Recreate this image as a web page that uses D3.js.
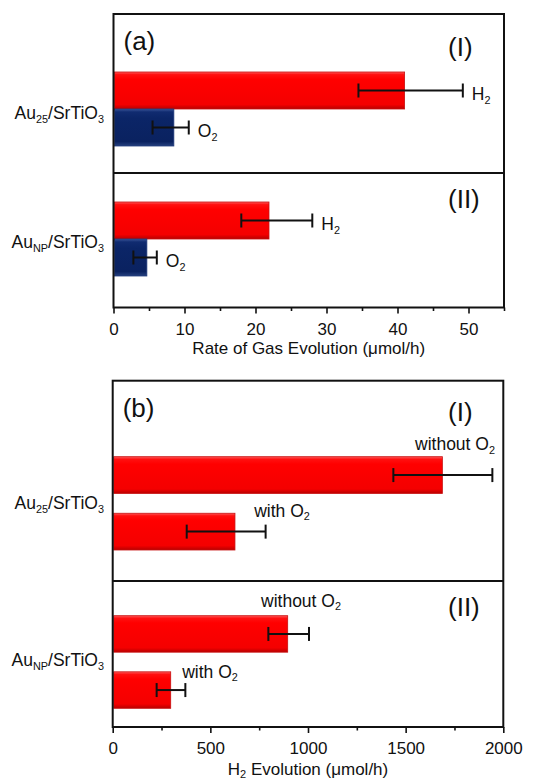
<!DOCTYPE html>
<html>
<head>
<meta charset="utf-8">
<script src="https://cdn.jsdelivr.net/npm/d3@7"></script>
<style>
  body { margin: 0; background: #fff; }
  text { font-family: Arial, "Liberation Sans", sans-serif; fill: #111; }
</style>
</head>
<body>
<script>
// ---- data ----
const catalysts = ["Au25/SrTiO3", "AuNP/SrTiO3"]
const groupTags = ["(I)", "(II)"]

// panel (a): gas evolution rate, µmol/h
const gasSeries = ["H2", "O2"]
const gasRate = [[41.0, 8.5], [21.9, 4.7]]
const gasErrLow = [[34.5, 5.5], [18.0, 2.8]]
const gasErrHigh = [[49.2, 10.6], [28.0, 6.1]]
const gasTicks = [0, 10, 20, 30, 40, 50]
const gasMinor = [5, 15, 25, 35, 45, 55]

// panel (b): H2 evolution, µmol/h
const condSeries = ["without O2", "with O2"]
const h2Rate = [[1688, 626], [896, 297]]
const h2ErrLow = [[1437, 379], [797, 225]]
const h2ErrHigh = [[1944, 783], [1005, 372]]
const h2Ticks = [0, 500, 1000, 1500, 2000]
const h2Minor = [250, 750, 1250, 1750]

const W = 554, H = 781
const svg = d3.select("body").append("svg")
    .attr("width", W)
    .attr("height", H)

const defs = svg.append("defs")
function gradient(id, stops) {
    const g = defs.append("linearGradient").attr("id", id)
        .attr("x1", 0).attr("y1", 0).attr("x2", 0).attr("y2", 1)
    stops.forEach(s => g.append("stop").attr("offset", s[0]).attr("stop-color", s[1]))
}
gradient("redbar", [[0, "#ff5a5a"], [0.07, "#ff1010"], [0.2, "#ff0000"], [0.88, "#f40000"], [1, "#b80000"]])
gradient("bluebar", [[0, "#3a5598"], [0.08, "#102b70"], [0.25, "#0b2567"], [0.88, "#0a2260"], [1, "#26417f"]])

function subParts(s) {
    const map = {
        "Au25/SrTiO3": [["Au"], ["25", true], ["/SrTiO"], ["3", true]],
        "AuNP/SrTiO3": [["Au"], ["NP", true], ["/SrTiO"], ["3", true]],
        "H2": [["H"], ["2", true]],
        "O2": [["O"], ["2", true]],
        "without O2": [["without O"], ["2", true]],
        "with O2": [["with O"], ["2", true]]
    }
    return map[s] || [[s]]
}
function addLabel(g, str, x, y, size, anchor) {
    const t = g.append("text")
        .attr("x", x).attr("y", y)
        .attr("font-size", size)
        .attr("text-anchor", anchor || "start")
    // subscripts drop a little, next part returns to the baseline
    let shifted = 0
    subParts(str).forEach(p => {
        const ts = t.append("tspan").text(p[0])
        if (p[1]) {
            ts.attr("font-size", size * 0.62).attr("dy", size * 0.2 - shifted)
            shifted = size * 0.2
        } else {
            ts.attr("dy", -shifted)
            shifted = 0
        }
    })
    return t
}

function panel(cfg) {
    const g = svg.append("g")
    const x = d3.scaleLinear().domain(cfg.domain).range([cfg.left, cfg.right])

    cfg.values.forEach((vals, gi) => {
        const y = d3.scaleBand().domain(cfg.series)
            .range(cfg.groupRange[gi]).paddingInner(cfg.inner)
        vals.forEach((v, si) => {
            const s = cfg.series[si]
            const y0 = y(s), bh = y.bandwidth(), cy = y0 + bh / 2
            g.append("rect")
                .attr("x", x(0) + 1).attr("y", y0)
                .attr("width", x(v) - x(0) - 1).attr("height", bh)
                .attr("fill", `url(#${cfg.fills[si]})`)
                .attr("stroke", cfg.edges[si]).attr("stroke-width", 0.8)
            // error bar
            const lo = x(cfg.low[gi][si]), hi = x(cfg.high[gi][si])
            const eb = g.append("g").attr("stroke", "#111").attr("stroke-width", 2)
            eb.append("line").attr("x1", lo).attr("x2", hi).attr("y1", cy).attr("y2", cy)
            eb.append("line").attr("x1", lo).attr("x2", lo).attr("y1", cy - 7).attr("y2", cy + 7)
            eb.append("line").attr("x1", hi).attr("x2", hi).attr("y1", cy - 7).attr("y2", cy + 7)
            const lp = cfg.labelPos(gi, si, hi, y0, bh)
            addLabel(g, s, lp[0], lp[1], 17.5, lp[2])
        })
        addLabel(g, cfg.cats[gi], 104, cfg.catY[gi], 17.5, "end")
        g.append("text").attr("x", 448).attr("y", cfg.tagY[gi])
            .attr("font-size", 26).text(groupTags[gi])
    })

    // frame and divider
    g.append("rect")
        .attr("x", cfg.left).attr("y", cfg.top)
        .attr("width", cfg.right - cfg.left).attr("height", cfg.bottom - cfg.top)
        .attr("fill", "none").attr("stroke", "#111").attr("stroke-width", 2)
    g.append("line")
        .attr("x1", cfg.left).attr("x2", cfg.right)
        .attr("y1", cfg.mid).attr("y2", cfg.mid)
        .attr("stroke", "#111").attr("stroke-width", 2)

    g.append("text").attr("x", cfg.left + 10).attr("y", cfg.letterY)
        .attr("font-size", 26).text(cfg.letter)

    // axes
    const ax = g.append("g").attr("transform", `translate(0,${cfg.bottom})`)
        .call(d3.axisBottom(x).tickValues(cfg.ticks).tickSize(6).tickPadding(9).tickFormat(d3.format("d")))
    ax.select(".domain").remove()
    ax.selectAll(".tick line").attr("stroke", "#111").attr("stroke-width", 1.6)
    ax.selectAll(".tick text").attr("font-size", 17)
        .style("font-family", "Arial, 'Liberation Sans', sans-serif").attr("fill", "#111")
    const mx = g.append("g").attr("transform", `translate(0,${cfg.bottom})`)
        .call(d3.axisBottom(x).tickValues(cfg.minor).tickSize(3.5).tickFormat(""))
    mx.select(".domain").remove()
    mx.selectAll(".tick line").attr("stroke", "#111").attr("stroke-width", 1.6)

    const title = g.append("text")
        .attr("x", (cfg.left + cfg.right) / 2).attr("y", cfg.titleY)
        .attr("font-size", 17).attr("text-anchor", "middle")
    cfg.title.forEach(p => {
        const ts = title.append("tspan").text(p[0])
        if (p[1]) ts.attr("font-size", 11).attr("dy", 3)
        else if (p[2]) ts.attr("dy", -3)
    })
}

panel({
    left: 113.5, right: 504, top: 14, mid: 173, bottom: 307.5,
    domain: [0, 55], ticks: gasTicks, minor: gasMinor,
    series: gasSeries, values: gasRate, low: gasErrLow, high: gasErrHigh,
    groupRange: [[72, 146], [202, 276]], inner: 0,
    fills: ["redbar", "bluebar"], edges: ["#c81010", "#1f3a7a"],
    labelPos: (gi, si, hi, y0, bh) => [hi + 9, y0 + bh / 2 + 9.5, "start"],
    cats: catalysts, catY: [119, 248], tagY: [56, 208],
    letter: "(a)", letterY: 50,
    title: [["Rate of Gas Evolution (μmol/h)"]], titleY: 354
})

// per-label placement for panel (b) annotations [x center, baseline offset from bar top]
const bLabelPlace = [[[455, -6.5], [282, 3.7]], [[301, -9], [210, 6]]]

panel({
    left: 112.7, right: 503.3, top: 380.7, mid: 581, bottom: 727,
    domain: [0, 2000], ticks: h2Ticks, minor: h2Minor,
    series: condSeries, values: h2Rate, low: h2ErrLow, high: h2ErrHigh,
    groupRange: [[456.7, 550], [615.7, 708.3]], inner: 0.35,
    fills: ["redbar", "redbar"], edges: ["#c81010", "#c81010"],
    labelPos: (gi, si, hi, y0, bh) => [bLabelPlace[gi][si][0], y0 + bLabelPlace[gi][si][1], "middle"],
    cats: catalysts, catY: [509, 666], tagY: [421, 616],
    letter: "(b)", letterY: 417,
    title: [["H"], ["2", true], [" Evolution (μmol/h)", false, true]], titleY: 775
})
</script>
</body>
</html>
